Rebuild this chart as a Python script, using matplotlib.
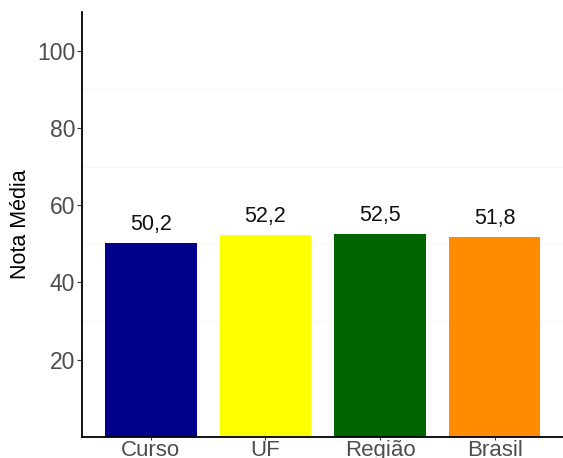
import matplotlib
matplotlib.use('Agg')
import matplotlib.pyplot as plt

# Dados do gráfico
categorias = ['Curso', 'UF', 'Região', 'Brasil']
notas = [50.2, 52.2, 52.5, 51.8]
rotulos = ['50,2', '52,2', '52,5', '51,8']
cores = ['#00008B', '#FFFF00', '#006400', '#FF8C00']
yticks = [20, 40, 60, 80, 100]

plt.rcParams['font.family'] = ['Liberation Sans', 'DejaVu Sans']

fig = plt.figure(figsize=(5.63, 4.58), dpi=100)
ax = fig.add_axes([0.1456, 0.0459, 0.855, 0.928])

x = list(range(1, len(categorias) + 1))
ax.bar(x, notas, width=0.8, color=cores, zorder=2)

# Rótulos com o valor acima de cada barra
for xi, v, r in zip(x, notas, rotulos):
    ax.text(xi, v + 4.8, r, ha='center', va='center', fontsize=15.5, color='#111111')

# Linhas de grade muito suaves
for g in [30, 50, 70, 90]:
    ax.axhline(g, color='#f8f8f8', lw=0.8, zorder=0)

ax.set_xlim(0.4, 4.6)
ax.set_ylim(0, 110)
ax.set_xticks(x)
ax.set_xticklabels(categorias, fontsize=16, color='#4d4d4d')
ax.set_yticks(yticks)
ax.set_yticklabels([str(t) for t in yticks], fontsize=16.5, color='#4d4d4d')
ax.tick_params(axis='y', colors='#333333', length=3.5, width=0.8, labelcolor='#4d4d4d', pad=1.5)
ax.tick_params(axis='x', colors='#333333', length=2, width=0.8, labelcolor='#4d4d4d', pad=0.5)
ax.set_ylabel('Nota Média', fontsize=15.5, color='black', labelpad=4)

for s in ['top', 'right']:
    ax.spines[s].set_visible(False)
for s in ['left', 'bottom']:
    ax.spines[s].set_color('black')
    ax.spines[s].set_linewidth(1.3)

fig.savefig('out.png', dpi=100)
